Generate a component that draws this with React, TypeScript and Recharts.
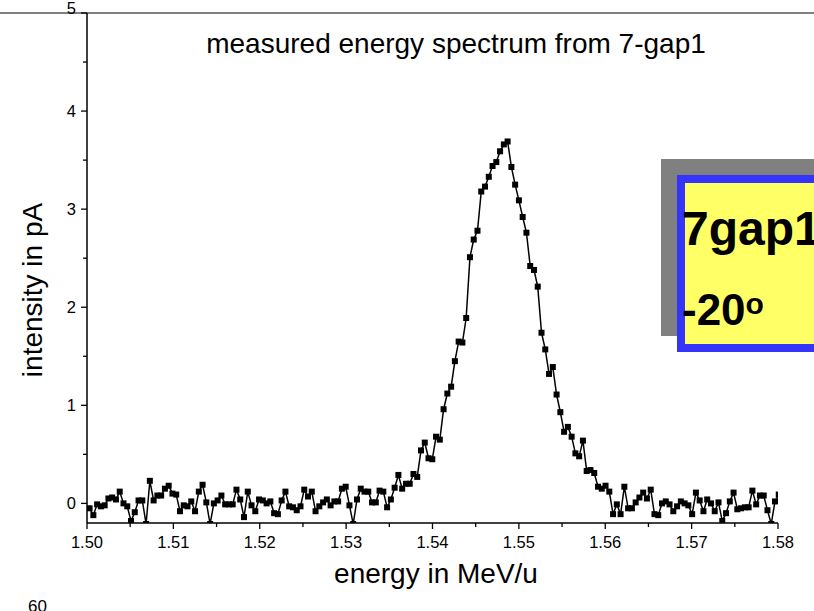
import React from 'react';
import { LineChart, Line, XAxis, YAxis } from 'recharts';

// Measured spectrum: intensity (pA) sampled on an evenly spaced energy grid (MeV/u)
const energyStart = 1.5003;
const energyStep = 0.000436;
const intensity: number[] = [
  -0.05, -0.12, -0.01, -0.03, -0.02, 0.05, 0.06, 0.04, 0.12, 0.0,
  -0.03, -0.18, -0.09, 0.03, 0.03, -0.21, 0.23, 0.03, 0.08, 0.08,
  0.15, 0.18, 0.10, 0.09, -0.08, -0.02, -0.03, 0.02, -0.08, 0.12,
  0.19, 0.01, -0.21, 0.0, 0.03, 0.08, -0.01, -0.01, -0.01, 0.14,
  0.04, -0.14, 0.12, -0.02, -0.08, 0.04, 0.03, 0.0, 0.02, -0.10,
  -0.11, 0.03, 0.12, -0.03, -0.04, -0.07, -0.03, 0.14, 0.07, 0.12,
  -0.08, -0.03, 0.01, 0.04, -0.02, 0.02, 0.02, 0.15, 0.17, -0.02,
  -0.21, 0.04, 0.15, 0.12, 0.12, 0.01, 0.01, 0.13, 0.12, -0.04,
  0.04, 0.16, 0.29, 0.15, 0.20, 0.20, 0.30, 0.27, 0.54, 0.62,
  0.46, 0.45, 0.68, 0.65, 0.96, 1.12, 1.19, 1.45, 1.65, 1.64,
  1.89, 2.51, 2.69, 2.78, 3.18, 3.23, 3.33, 3.44, 3.48, 3.59,
  3.66, 3.69, 3.43, 3.25, 3.09, 2.92, 2.76, 2.42, 2.38, 2.21,
  1.74, 1.57, 1.32, 1.39, 1.11, 0.93, 0.73, 0.78, 0.68, 0.51,
  0.48, 0.64, 0.33, 0.34, 0.31, 0.17, 0.15, 0.18, 0.12, -0.11,
  -0.01, -0.11, 0.17, -0.05, -0.05, 0.01, 0.06, 0.11, 0.05, 0.14,
  -0.11, -0.12, 0.0, 0.02, -0.01, -0.08, -0.03, 0.02, 0.0, -0.02,
  -0.11, 0.11, 0.03, -0.08, 0.04, 0.0, -0.08, 0.01, -0.18, -0.10,
  0.02, 0.11, -0.06, -0.05, -0.04, -0.04, 0.13, -0.01, 0.08, 0.08,
  -0.07, -0.21, 0.02, 0.09,
];

const xTicks: number[] = [
  1.5, 1.505, 1.51, 1.515, 1.52, 1.525, 1.53, 1.535, 1.54,
  1.545, 1.55, 1.555, 1.56, 1.565, 1.57, 1.575, 1.58,
];
const yTicks: number[] = [0, 0.5, 1, 1.5, 2, 2.5, 3, 3.5, 4, 4.5, 5];

const chartTitle = 'measured energy spectrum from 7-gap1';
const xTitle = 'energy in MeV/u';
const yTitle = 'intensity in pA';
const boxLine1 = '7gap1';
const boxLine2 = '-20';
const boxSup = 'o';
const stray = '60';

const data = intensity.map((v, i) => ({ e: energyStart + i * energyStep, v }));

const FONT = '"Liberation Sans", Arial, sans-serif';

const XTick = (props: any) => {
  const { x, y, payload } = props;
  const val = payload.value as number;
  const major = Math.round(val * 200) % 2 === 0;
  return (
    <g>
      <line x1={x} y1={y} x2={x} y2={y + (major ? 6 : 4)} stroke="#000" strokeWidth={1.3} />
      {major && (
        <text x={x} y={y + 25} textAnchor="middle" fontSize={16.5} fontFamily={FONT} fill="#000">
          {val.toFixed(2)}
        </text>
      )}
    </g>
  );
};

const YTick = (props: any) => {
  const { x, y, payload } = props;
  const val = payload.value as number;
  const major = Math.abs(val - Math.round(val)) < 1e-6;
  const top = val >= 5;
  return (
    <g>
      <line x1={x} y1={y} x2={x - (major ? 6 : 4)} y2={y} stroke="#000" strokeWidth={1.3} />
      {major && (
        <text x={x - 11} y={y + (top ? 1 : 6)} textAnchor="end" fontSize={16.5} fontFamily={FONT} fill="#000">
          {String(val)}
        </text>
      )}
    </g>
  );
};

const SquareDot = (props: any) => {
  const { cx, cy, index } = props;
  if (cx == null || cy == null) return <g key={index} />;
  return <rect key={index} x={cx - 3} y={cy - 3} width={6} height={6} fill="#000" />;
};

export default function App() {
  return (
    <div
      style={{
        position: 'absolute',
        left: 0,
        top: 0,
        width: 814,
        height: 611,
        overflow: 'hidden',
        background: '#fff',
        fontFamily: FONT,
      }}
    >
      <div style={{ position: 'absolute', left: 0, top: 12, width: 814, height: 2, background: '#808080' }} />
      <div style={{ position: 'absolute', left: 0, top: 0 }}>
        <LineChart width={814} height={611} data={data} margin={{ top: 13, right: 36, bottom: 0, left: 0 }}>
          <XAxis
            dataKey="e"
            type="number"
            domain={[1.5, 1.58]}
            ticks={xTicks}
            interval={0}
            allowDataOverflow
            height={88}
            tickSize={0}
            tickMargin={0}
            tickLine={false}
            tick={<XTick />}
            axisLine={{ stroke: '#000', strokeWidth: 1.5 }}
          />
          <YAxis
            type="number"
            domain={[-0.2, 5]}
            ticks={yTicks}
            interval={0}
            allowDataOverflow
            width={87}
            tickSize={0}
            tickMargin={0}
            tickLine={false}
            tick={<YTick />}
            axisLine={{ stroke: '#000', strokeWidth: 1.5 }}
          />
          <Line
            dataKey="v"
            type="linear"
            stroke="#000"
            strokeWidth={1.5}
            dot={SquareDot}
            activeDot={false}
            isAnimationActive={false}
          />
        </LineChart>
      </div>

      <div
        style={{
          position: 'absolute',
          left: 456,
          top: 28,
          transform: 'translateX(-50%)',
          whiteSpace: 'nowrap',
          fontSize: 28,
          lineHeight: '32px',
          color: '#000',
        }}
      >
        {chartTitle}
      </div>
      <div
        style={{
          position: 'absolute',
          left: 436,
          top: 558,
          transform: 'translateX(-50%)',
          whiteSpace: 'nowrap',
          fontSize: 28,
          lineHeight: '32px',
          color: '#000',
        }}
      >
        {xTitle}
      </div>
      <div
        style={{
          position: 'absolute',
          left: 33,
          top: 290,
          transform: 'translate(-50%, -50%) rotate(-90deg)',
          whiteSpace: 'nowrap',
          fontSize: 28,
          lineHeight: '32px',
          color: '#000',
        }}
      >
        {yTitle}
      </div>
      <div style={{ position: 'absolute', left: 28, top: 597, fontSize: 17, lineHeight: '20px', color: '#000' }}>
        {stray}
      </div>

      <div style={{ position: 'absolute', left: 661, top: 159, width: 220, height: 177, background: '#808080' }} />
      <div
        style={{
          position: 'absolute',
          left: 677,
          top: 175,
          width: 220,
          height: 177,
          boxSizing: 'border-box',
          border: '8px solid #3434FA',
          background: '#FFFF66',
        }}
      />
      <div
        style={{
          position: 'absolute',
          left: 682,
          top: 205,
          fontSize: 48,
          fontWeight: 'bold',
          lineHeight: '48px',
          color: '#000',
          whiteSpace: 'nowrap',
        }}
      >
        {boxLine1}
      </div>
      <div
        style={{
          position: 'absolute',
          left: 682,
          top: 288,
          fontSize: 44,
          fontWeight: 'bold',
          lineHeight: '44px',
          color: '#000',
          whiteSpace: 'nowrap',
        }}
      >
        {boxLine2}
        <span style={{ fontSize: 30, position: 'relative', top: -11 }}>{boxSup}</span>
      </div>
    </div>
  );
}
